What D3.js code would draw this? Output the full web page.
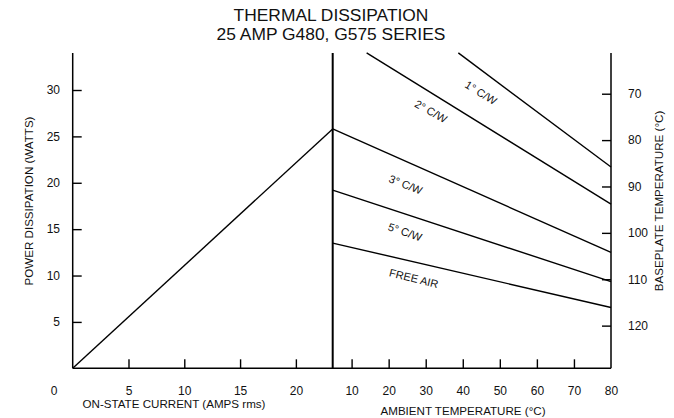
<!DOCTYPE html>
<html><head><meta charset="utf-8">
<script src="https://cdn.jsdelivr.net/npm/d3@7"></script>
<style>
body{margin:0;background:#fff;}
text{font-family:"Liberation Sans",Arial,sans-serif;fill:#111;}
</style></head>
<body><svg id="c" width="674" height="418"></svg>
<script>
// ---- data ----
const titleLines = ["THERMAL DISSIPATION", "25 AMP G480, G575 SERIES"];
const currentTicks = [0, 5, 10, 15, 20];
const ambientTicks = [10, 20, 30, 40, 50, 60, 70, 80];
const powerTicks = [5, 10, 15, 20, 25, 30];
const baseplateTicks = [70, 80, 90, 100, 110, 120];
// on-state current (A rms) vs power dissipation (W)
const currentCurve = [[0, 0], [23.3, 25.8]];
// ambient temperature (°C) vs power dissipation (W) per heatsink rating
const curveNames = ["1° C/W", "2° C/W", "3° C/W", "5° C/W", "FREE AIR"];
const curveAmbient = [[38.8, 80], [14.05, 80], [4.9, 80], [4.9, 80], [4.9, 80]];
const curvePower = [[34, 21.7], [34, 17.7], [25.8, 12.5], [19.2, 9.35], [13.5, 6.55]];
// label anchor (ambient °C, power W) and rotation
const labelAmbient = [44.9, 31.4, 24.6, 24.4, 26.8];
const labelPower = [29.7, 27.7, 19.8, 14.7, 9.7];
const labelAngle = [32, 29, 22, 19, 14];

// ---- scales ----
const svg = d3.select("#c");
const yP = d3.scaleLinear().domain([0, 34]).range([368.3, 52.9]);
const yT = d3.scaleLinear().domain([129.2, 61.2]).range([368.3, 52.9]);
const xI = d3.scaleLinear().domain([0, 23.3]).range([72.7, 332.7]);
const xA = d3.scaleLinear().domain([4.9, 80]).range([332.7, 611]);

// title
svg.selectAll("text.title").data(titleLines).join("text")
  .attr("class", "title").attr("x", 331).attr("y", (d, i) => 21.3 + i * 18.7)
  .attr("text-anchor", "middle").style("font-size", "17.4px").text(d => d);

// frame
const yTop = yP(34), yBot = yP(0);
svg.append("line").attr("x1", xI(0)).attr("x2", xI(0)).attr("y1", yTop).attr("y2", yBot).attr("stroke", "#000").attr("stroke-width", 1.5);
svg.append("line").attr("x1", xA(80)).attr("x2", xA(80)).attr("y1", yTop).attr("y2", yBot).attr("stroke", "#000").attr("stroke-width", 1.5);
svg.append("line").attr("x1", xI.range()[1]).attr("x2", xI.range()[1]).attr("y1", yTop).attr("y2", yBot).attr("stroke", "#000").attr("stroke-width", 2);
svg.append("line").attr("x1", xI(0)).attr("x2", xA(80)).attr("y1", yBot).attr("y2", yBot).attr("stroke", "#000").attr("stroke-width", 1.5);

function styleAxis(g, fs) {
  g.select(".domain").remove();
  g.selectAll(".tick line").attr("stroke", "#000").attr("stroke-width", 1.4);
  g.selectAll(".tick text").style("font-size", fs).attr("fill", "#111").attr("font-family", null);
}
// left power axis
svg.append("g").attr("transform", `translate(${xI(0)},0)`)
  .call(d3.axisLeft(yP).tickValues(powerTicks).tickSize(-9).tickPadding(12.7))
  .call(g => styleAxis(g, "12px"));
// right baseplate axis
svg.append("g").attr("transform", `translate(${xA(80)},0)`)
  .call(d3.axisRight(yT).tickValues(baseplateTicks).tickSize(-9).tickPadding(17))
  .call(g => styleAxis(g, "12px"));
// bottom current axis
svg.append("g").attr("transform", `translate(0,${yBot})`)
  .call(d3.axisBottom(xI).tickValues(currentTicks).tickSize(-9).tickPadding(18.2))
  .call(g => styleAxis(g, "12px"))
  .call(g => {
    g.selectAll(".tick").filter(d => d === 0).select("line").remove();
    g.selectAll(".tick").filter(d => d === 0).select("text").attr("x", -19);
  });
// bottom ambient axis
svg.append("g").attr("transform", `translate(0,${yBot})`)
  .call(d3.axisBottom(xA).tickValues(ambientTicks).tickSize(-9).tickPadding(18.2))
  .call(g => styleAxis(g, "12px"))
  .call(g => g.selectAll(".tick").filter(d => d === 80).select("line").remove());
svg.selectAll("g").attr("font-family", null).attr("font-size", null);

// axis titles
svg.append("text").attr("x", 174).attr("y", 408.3).attr("text-anchor", "middle").style("font-size", "11.6px").text("ON-STATE CURRENT (AMPS rms)");
svg.append("text").attr("x", 463).attr("y", 415).attr("text-anchor", "middle").style("font-size", "11.6px").text("AMBIENT TEMPERATURE (°C)");
svg.append("text").attr("transform", "translate(32.7,201) rotate(-90)").attr("text-anchor", "middle").style("font-size", "11.6px").text("POWER DISSIPATION (WATTS)");
svg.append("text").attr("transform", "translate(663.3,201) rotate(-90)").attr("text-anchor", "middle").style("font-size", "11.6px").text("BASEPLATE TEMPERATURE (°C)");

// curves
const line = d3.line();
svg.append("path").attr("d", line(currentCurve.map(d => [xI(d[0]), yP(d[1])])))
  .attr("fill", "none").attr("stroke", "#000").attr("stroke-width", 1.4);
curveNames.forEach((name, i) => {
  const pts = curveAmbient[i].map((a, j) => [xA(a), yP(curvePower[i][j])]);
  svg.append("path").attr("d", line(pts)).attr("fill", "none").attr("stroke", "#000").attr("stroke-width", 1.4);
  svg.append("text")
    .attr("transform", `translate(${xA(labelAmbient[i])},${yP(labelPower[i])}) rotate(${labelAngle[i]})`)
    .attr("text-anchor", "middle").attr("dy", "0.35em").style("font-size", "11px").text(name);
});
</script></body></html>
